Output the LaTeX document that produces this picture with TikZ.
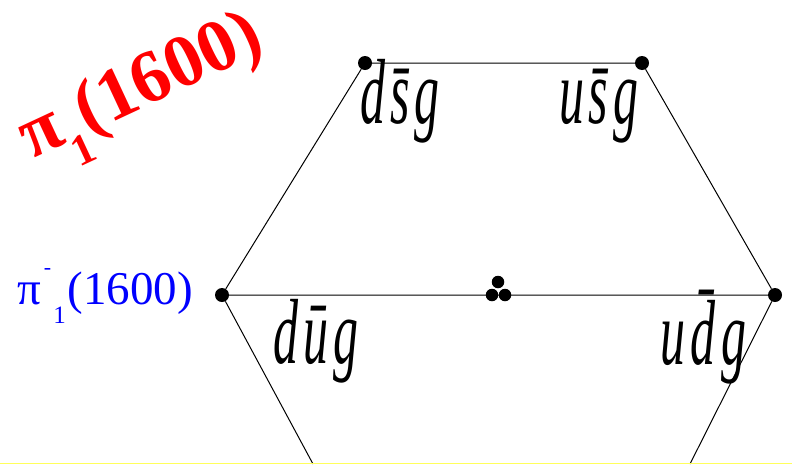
\documentclass[tikz,border=0pt]{standalone}
\usepackage{fontspec}
\setmainfont{Liberation Serif}
\usetikzlibrary{positioning}
\definecolor{edgeyellow}{RGB}{255,255,90}
\tikzset{
  hexedge/.style={line width=1pt,black},
  vert/.style={circle,fill=black,inner sep=0pt,minimum size=14pt},
  quarkdot/.style={circle,fill=black,inner sep=0pt,minimum size=12.5pt},
  quark/.style={anchor=base,inner sep=0pt,font=\fontsize{50}{50}\selectfont\itshape},
}
\newcommand{\qlab}[1]{\scalebox{1}[1.85]{#1}}

\begin{document}
\begin{tikzpicture}[x=1pt,y=-1pt]
  \useasboundingbox (0,0) rectangle (792,464);
  % vertices of the hexagon
  \node[vert] (tl) at (365,63) {};
  \node[vert] (tr) at (642,63) {};
  \node[vert] (ml) at (222,295) {};
  \node[vert] (mr) at (775,295) {};
  \coordinate (bl) at (313,464);
  \coordinate (br) at (690,464);
  % centre: three states
  \node[quarkdot] (c0) at (498,282) {};
  \node[quarkdot] (c1) at (492,295) {};
  \node[quarkdot] (c2) at (505,295) {};
  \draw[hexedge] (tl) -- (tr) -- (mr) -- (ml) -- (tl)
        (ml) -- (bl)
        (mr) -- (br);
  % quark content
  \node[quark] (dsg) at (400,123) {\qlab{d\kern5pt\=s\kern5pt g}};
  \node[quark] (usg) at (599,123) {\qlab{u\kern4pt\=s\kern5pt g}};
  \node[quark] (dug) at (316,363) {\qlab{d\kern5pt\=u\kern5pt g}};
  \node[quark] (udg) at (703,364) {\qlab{u\kern5pt\=d\kern6pt g}};
  % labels
  \node[anchor=base west,inner sep=0pt,text=blue,font=\fontsize{47}{47}\selectfont]
    (pim) at (17,304) {π\kern3pt\raisebox{30pt}{\fontsize{22}{22}\selectfont -}\kern2pt\raisebox{-19pt}{\fontsize{25}{25}\selectfont 1}\kern2pt(1600)};
  \node[anchor=base west,inner sep=0pt,text=red,rotate=25,font=\fontsize{74}{74}\selectfont\bfseries]
    (pione) at (31,160) {π\raisebox{-27pt}{\fontsize{44}{44}\selectfont 1}(1600)};
  \draw[edgeyellow,line width=1.2pt] (0,463.4) -- (792,463.4);
\end{tikzpicture}
\end{document}
